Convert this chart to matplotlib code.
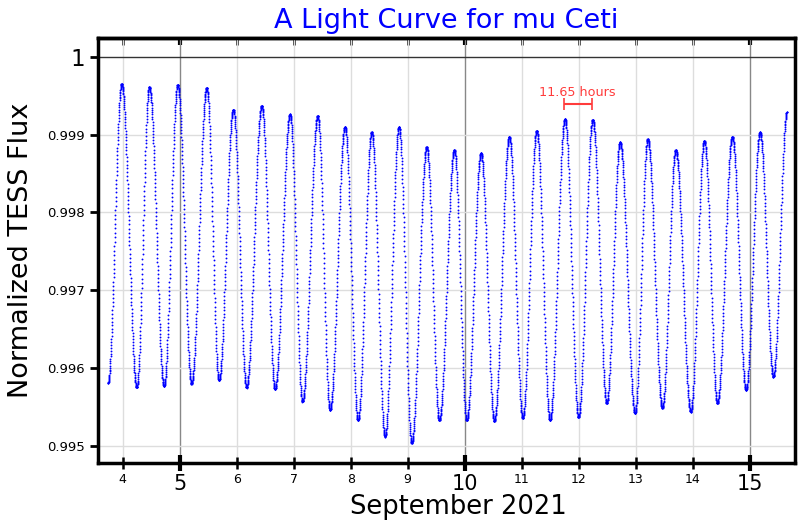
import numpy as np
import matplotlib.pyplot as plt

# light curve turning points (day of Sept 2021, normalized flux)
ext_day = [3.742, 3.982, 4.246, 4.467, 4.725, 4.965, 5.207, 5.474, 5.689, 5.940,
           6.172, 6.439, 6.672, 6.935, 7.154, 7.421, 7.637, 7.900, 8.128, 8.368,
           8.602, 8.847, 9.070, 9.333, 9.554, 9.818, 10.035, 10.286, 10.519, 10.782,
           11.018, 11.263, 11.496, 11.759, 11.996, 12.246, 12.491, 12.725, 12.988, 13.211,
           13.467, 13.702, 13.965, 14.204, 14.432, 14.695, 14.935, 15.181, 15.414, 15.654]
ext_flux = [0.99581, 0.99965, 0.99575, 0.99961, 0.99577, 0.99964, 0.99580, 0.99960, 0.99584, 0.99932,
            0.99575, 0.99937, 0.99573, 0.99926, 0.99557, 0.99924, 0.99546, 0.99910, 0.99533, 0.99903,
            0.99512, 0.99910, 0.99504, 0.99884, 0.99533, 0.99880, 0.99533, 0.99876, 0.99532, 0.99897,
            0.99536, 0.99905, 0.99533, 0.99920, 0.99537, 0.99919, 0.99555, 0.99890, 0.99542, 0.99894,
            0.99549, 0.99880, 0.99544, 0.99892, 0.99555, 0.99897, 0.99572, 0.99903, 0.99589, 0.99929]

major_days = [5, 10, 15]
minor_days = [4, 6, 7, 8, 9, 11, 12, 13, 14]
major_flux = [1]
minor_flux = [0.995, 0.996, 0.997, 0.998, 0.999]
minor_flux_labels = ['0.995', '0.996', '0.997', '0.998', '0.999']

period_hours = 11.65
bar_start = 11.742

# sample the curve at a 200 s cadence, half-cosine between turning points
ext_day = np.array(ext_day)
ext_flux = np.array(ext_flux)
t = np.arange(ext_day[0], ext_day[-1], 200 / 86400)
k = np.clip(np.searchsorted(ext_day, t, side='right') - 1, 0, len(ext_day) - 2)
ph = (t - ext_day[k]) / (ext_day[k + 1] - ext_day[k])
flux = ext_flux[k] + (ext_flux[k + 1] - ext_flux[k]) * (1 - np.cos(np.pi * ph)) / 2

fig = plt.figure(figsize=(8, 5.2), dpi=100)
ax = fig.add_axes([0.1225, 0.1096, 0.87125, 0.8173])

ax.plot(t, flux, '.', color='blue', ms=2.7, mew=0)

ax.set_xlim(3.567, 15.795)
ax.set_ylim(0.99478, 1.00024)

ax.set_xticks(major_days)
ax.set_xticklabels([str(d) for d in major_days], fontsize=15)
ax.set_xticks(minor_days, minor=True)
ax.set_xticklabels([str(d) for d in minor_days], minor=True, fontsize=9)
ax.set_yticks(major_flux)
ax.set_yticklabels(['1'], fontsize=16.5)
ax.set_yticks(minor_flux, minor=True)
ax.set_yticklabels(minor_flux_labels, minor=True, fontsize=9.5)

ax.tick_params(axis='x', which='major', direction='inout', length=12, width=3, pad=2)
ax.tick_params(axis='x', which='minor', direction='inout', length=9, width=1.8, pad=3)
ax.tick_params(axis='y', which='both', direction='out', length=6, width=2)

ax.grid(axis='x', which='major', color='#888888', lw=1)
ax.grid(axis='x', which='minor', color='#dddddd', lw=1)
ax.grid(axis='y', which='major', color='#333333', lw=1)
ax.grid(axis='y', which='minor', color='#dddddd', lw=1)
ax.set_axisbelow(True)

top = ax.secondary_xaxis('top')
top.set_xticks(major_days)
top.set_xticks(minor_days, minor=True)
top.tick_params(which='major', direction='in', length=5, width=3, labeltop=False)
top.tick_params(which='minor', direction='in', length=5, width=1.8, labeltop=False)
top.spines['top'].set_linewidth(2.5)

for s in ax.spines.values():
    s.set_linewidth(2.5)

# period marker
ax.errorbar(bar_start + period_hours / 48, 0.99939, xerr=period_hours / 48,
            color='#ff3b3b', capsize=4, lw=1.5, capthick=1.2)
ax.text(bar_start + period_hours / 48, 0.99954, '11.65 hours', color='#ff3b3b',
        fontsize=9.2, ha='center', va='center')

ax.set_title('A Light Curve for mu Ceti', color='blue', fontsize=19.5, pad=7)
ax.set_xlabel('September 2021', fontsize=18.5)
ax.xaxis.set_label_coords(0.5165, -0.074)
ax.set_ylabel('Normalized TESS Flux', fontsize=19.5)
ax.yaxis.set_label_coords(-0.092, 0.5)

fig.savefig('out.png')
